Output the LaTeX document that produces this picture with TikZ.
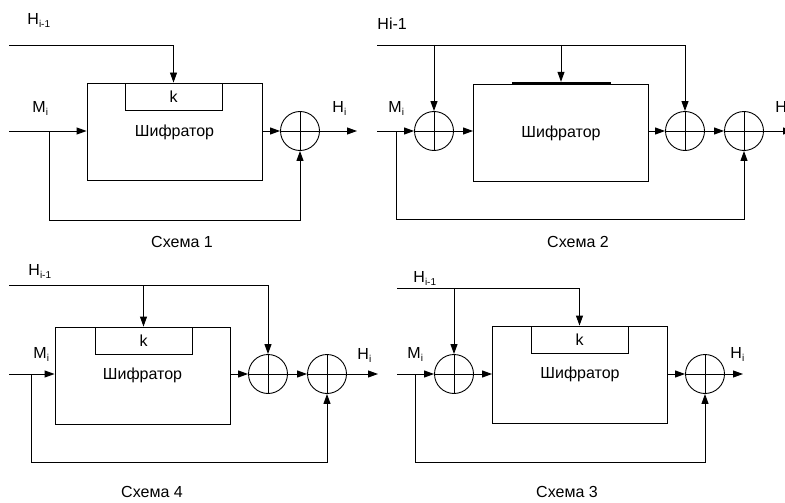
\documentclass[tikz,border=0pt]{standalone}
\usepackage{fontspec}
\setmainfont{Liberation Sans}
\usetikzlibrary{arrows.meta}
\newcommand{\nedre}[1]{\raisebox{-3pt}{\fontsize{10}{10}\selectfont #1}}

\begin{document}
\begin{tikzpicture}[
  x=1pt, y=-1pt,
  font=\fontsize{16}{19}\selectfont,
  line width=0.9pt,
  boks/.style={draw, minimum width=175pt, minimum height=97pt, inner sep=0pt},
  nokkel/.style={draw, minimum width=97pt, minimum height=27pt, inner sep=0pt},
  sum/.style={draw, circle, minimum size=39pt, inner sep=0pt,
    path picture={\draw (path picture bounding box.north) -- (path picture bounding box.south)
      (path picture bounding box.west) -- (path picture bounding box.east);}},
  merke/.style={anchor=base west, inner sep=0pt},
  pil/.style={-{Triangle[length=10pt, width=7pt]}}
]
\clip (0,0) rectangle (785,503);

\node[boks] (skj1) at (174.5,132) {Шифратор};
\node[nokkel] (k1) at (173.5,96.5) {k};
\node[sum] (c1) at (300,131) {};
\coordinate (h1) at (9,45);
\coordinate (m1) at (9,131);
\coordinate (g1) at (49,220);
\coordinate (ut1) at (357,131);
\node[merke] (hl1) at (27,25) {H\nedre{i-1}};
\node[merke] (ml1) at (32,113) {M\nedre{i}};
\node[merke] (hu1) at (332,113) {H\nedre{i}};
\node (navn1) at (182,242) {Схема 1};
\draw[pil] (h1) -| (k1);
\draw[pil] (m1) -- (m1 -| skj1.west);
\draw[pil] (skj1.east |- c1) -- (c1);
\draw[pil] (c1) -- (ut1);
\draw[pil] (m1 -| g1) -- (g1) -| (c1);

\node[boks] (skj2) at (561,133) {Шифратор};
\node[draw, fill, minimum width=98pt, minimum height=1.5pt, inner sep=0pt] (k2) at (561,83) {};
\node[sum] (c21) at (434,131) {};
\node[sum] (c22) at (685,131) {};
\node[sum] (c23) at (744,131) {};
\coordinate (h2) at (377,45);
\coordinate (m2) at (377,131);
\coordinate (g2) at (396,219);
\coordinate (ut2) at (793,131);
\node[merke] (hl2) at (377,30) {Hi-1};
\node[merke] (ml2) at (388,113) {M\nedre{i}};
\node[merke] (hu2) at (775,113) {H\nedre{i}};
\node (navn2) at (578,242) {Схема 2};
\draw[pil] (h2) -| (c22);
\draw[pil] (c21 |- h2) -- (c21);
\draw[pil] (k2 |- h2) -- (k2);
\draw[pil] (m2) -- (c21);
\draw[pil] (c21) -- (skj2.west |- c21);
\draw[pil] (skj2.east |- c22) -- (c22);
\draw[pil] (c22) -- (c23);
\draw[pil] (c23) -- (ut2);
\draw[pil] (m2 -| g2) -- (g2) -| (c23);

\node[boks] (skj4) at (142.5,375.5) {Шифратор};
\node[nokkel] (k4) at (143.5,340.5) {k};
\node[sum] (c41) at (268,374) {};
\node[sum] (c42) at (327,374) {};
\coordinate (h4) at (9,285);
\coordinate (m4) at (9,374);
\coordinate (g4) at (31,462);
\coordinate (ut4) at (378,374);
\node[merke] (hl4) at (28,275) {H\nedre{i-1}};
\node[merke] (ml4) at (33,358) {M\nedre{i}};
\node[merke] (hu4) at (357,359) {H\nedre{i}};
\node (navn4) at (152,492) {Схема 4};
\draw[pil] (h4) -| (c41);
\draw[pil] (k4 |- h4) -- (k4);
\draw[pil] (m4) -- (m4 -| skj4.west);
\draw[pil] (skj4.east |- c41) -- (c41);
\draw[pil] (c41) -- (c42);
\draw[pil] (c42) -- (ut4);
\draw[pil] (m4 -| g4) -- (g4) -| (c42);

\node[boks] (skj3) at (580,374.5) {Шифратор};
\node[nokkel] (k3) at (579.5,339.5) {k};
\node[sum] (c31) at (454,374) {};
\node[sum] (c32) at (705,374) {};
\coordinate (h3) at (397,288);
\coordinate (m3) at (397,374);
\coordinate (g3) at (415,462);
\coordinate (ut3) at (743,374);
\node[merke] (hl3) at (413,282) {H\nedre{i-1}};
\node[merke] (ml3) at (407,358) {M\nedre{i}};
\node[merke] (hu3) at (730,358) {H\nedre{i}};
\node (navn3) at (567,492) {Схема 3};
\draw[pil] (h3) -| (k3);
\draw[pil] (c31 |- h3) -- (c31);
\draw[pil] (m3) -- (c31);
\draw[pil] (c31) -- (skj3.west |- c31);
\draw[pil] (skj3.east |- c32) -- (c32);
\draw[pil] (c32) -- (ut3);
\draw[pil] (m3 -| g3) -- (g3) -| (c32);
\end{tikzpicture}
\end{document}
